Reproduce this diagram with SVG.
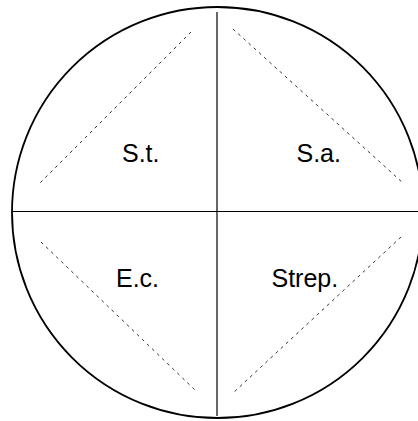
<svg xmlns="http://www.w3.org/2000/svg" width="418" height="421" viewBox="0 0 418 421">
<style>
.outline{fill:none;stroke:#000;stroke-width:1.8}
.axis{stroke:#000;stroke-width:1.2}
.dash{stroke:#000;stroke-width:0.8;stroke-dasharray:3 4}
.lbl{font-family:"Liberation Sans",Arial,sans-serif;font-size:25px;fill:#000}
</style>
<rect width="418" height="421" fill="#fff"/>
<circle id="plate" class="outline" cx="217.5" cy="212.5" r="205.5"/>
<g id="connectors">
<line class="axis" x1="217" y1="12" x2="217" y2="416"/>
<line class="axis" x1="13" y1="211.5" x2="418" y2="211.5"/>
<line class="dash" x1="191" y1="32" x2="40" y2="183"/>
<line class="dash" x1="233" y1="29" x2="403" y2="183"/>
<line class="dash" x1="41" y1="242" x2="195" y2="390"/>
<line class="dash" x1="401" y1="237" x2="233" y2="393"/>
</g>
<g id="st"><text class="lbl" x="122" y="161.5">S.t.</text></g>
<g id="sa"><text class="lbl" x="296.5" y="161.5">S.a.</text></g>
<g id="ec"><text class="lbl" x="116" y="287">E.c.</text></g>
<g id="strep"><text class="lbl" x="271.5" y="287">Strep.</text></g>
</svg>
